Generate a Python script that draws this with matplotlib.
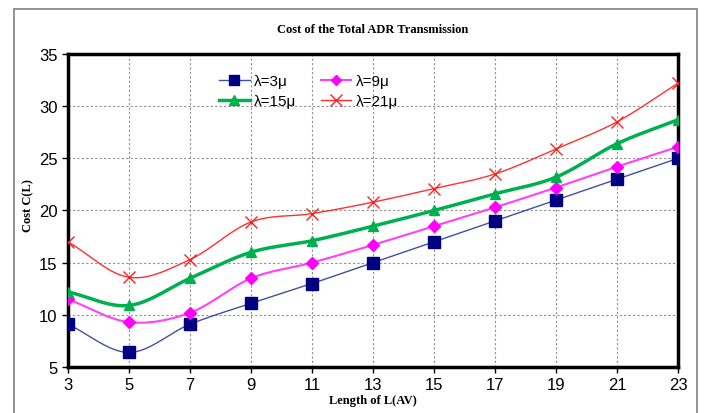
import numpy as np
import matplotlib
matplotlib.use("Agg")
import matplotlib.pyplot as plt
from matplotlib.patches import Rectangle

x_vals = [3, 5, 7, 9, 11, 13, 15, 17, 19, 21, 23]
lam3 = [9.1, 6.4, 9.1, 11.1, 13.0, 15.0, 17.0, 19.0, 21.0, 23.0, 25.0]
lam9 = [11.5, 9.3, 10.2, 13.5, 15.0, 16.7, 18.5, 20.3, 22.2, 24.2, 26.1]
lam15 = [12.2, 10.9, 13.5, 16.0, 17.1, 18.5, 20.0, 21.6, 23.2, 26.4, 28.7]
lam21 = [17.0, 13.6, 15.3, 18.9, 19.7, 20.8, 22.1, 23.5, 25.9, 28.5, 32.2]
labels = ["λ=3μ", "λ=9μ", "λ=15μ", "λ=21μ"]


def smooth(xs, ys, n=20):
    xs = np.asarray(xs, float)
    ys = np.asarray(ys, float)
    px = np.concatenate([[2 * xs[0] - xs[1]], xs, [2 * xs[-1] - xs[-2]]])
    py = np.concatenate([[2 * ys[0] - ys[1]], ys, [2 * ys[-1] - ys[-2]]])
    ox, oy = [], []
    t = np.linspace(0, 1, n, endpoint=False)

    def f(a0, a1, a2, a3):
        return 0.5 * ((2 * a1) + (-a0 + a2) * t +
                      (2 * a0 - 5 * a1 + 4 * a2 - a3) * t ** 2 +
                      (-a0 + 3 * a1 - 3 * a2 + a3) * t ** 3)

    for i in range(1, len(px) - 2):
        ox.append(f(px[i - 1], px[i], px[i + 1], px[i + 2]))
        oy.append(f(py[i - 1], py[i], py[i + 1], py[i + 2]))
    ox.append([xs[-1]])
    oy.append([ys[-1]])
    return np.concatenate(ox), np.concatenate(oy)


fig = plt.figure(figsize=(7.04, 4.14), dpi=100)
ax = fig.add_axes([68 / 704, 1 - 368 / 414, 610 / 704, 313 / 414])

# outer frame
fig.patches.append(Rectangle((14 / 704, -0.05), (697 - 14) / 704, 1.05 - 10 / 414,
                             transform=fig.transFigure, fill=False,
                             edgecolor="#808080", linewidth=1.2))

series = [
    (lam3, "#000080", "#4050A0", "s", 1.0, 8),
    (lam9, "#FF00FF", "#FF40FF", "D", 1.5, 6),
    (lam15, "#00B050", "#00B050", "^", 2.5, 7.5),
    (lam21, "#FF2020", "#FF3030", "x", 1.0, 9),
]
handles = {}
for (ys, col, lcol, mk, lw, ms), lab in zip(series, labels):
    sx, sy = smooth(x_vals, ys)
    ax.plot(sx, sy, color=lcol, linewidth=lw, zorder=3)
    ax.plot(x_vals, ys, linestyle="none", marker=mk, color=col, markersize=ms,
            zorder=4)
    h, = ax.plot([], [], color=lcol, linewidth=lw, marker=mk, markersize=ms - 1,
                 markerfacecolor=col, markeredgecolor=col)
    handles[lab] = h

ax.set_xlim(3, 23)
ax.set_ylim(5, 35)
ax.set_xticks(x_vals)
ax.set_yticks([5, 10, 15, 20, 25, 30, 35])
ax.grid(True, linestyle=(0, (2, 2)), color="#909090", linewidth=0.8)
ax.set_axisbelow(True)
for s in ax.spines.values():
    s.set_linewidth(2.5)
    s.set_color("black")
ax.tick_params(axis="both", labelsize=12, length=4, width=1, direction="out")
for t in ax.get_xticklabels() + ax.get_yticklabels():
    t.set_fontfamily("Liberation Sans")
ax.tick_params(axis="x", pad=3)

ax.set_title("Cost of the Total ADR Transmission", fontfamily="Liberation Serif",
             fontweight="bold", fontsize=9, pad=16)
ax.set_xlabel("Length of L(AV)", fontfamily="Liberation Serif", fontweight="bold",
              fontsize=9, labelpad=2)
ax.set_ylabel("Cost C(L)", fontfamily="Liberation Serif", fontweight="bold",
              fontsize=9, labelpad=1)
ax.yaxis.set_label_coords(-0.055, 0.52)

order = ["λ=3μ", "λ=15μ", "λ=9μ", "λ=21μ"]
leg = ax.legend([handles[o] for o in order], order, ncol=2, frameon=False,
                loc="upper left", bbox_to_anchor=(0.225, 0.98),
                prop={"family": "Liberation Sans", "size": 11},
                handlelength=2.0, columnspacing=1.6, handletextpad=0.3,
                labelspacing=0.4)

fig.savefig("out.png", dpi=100)
